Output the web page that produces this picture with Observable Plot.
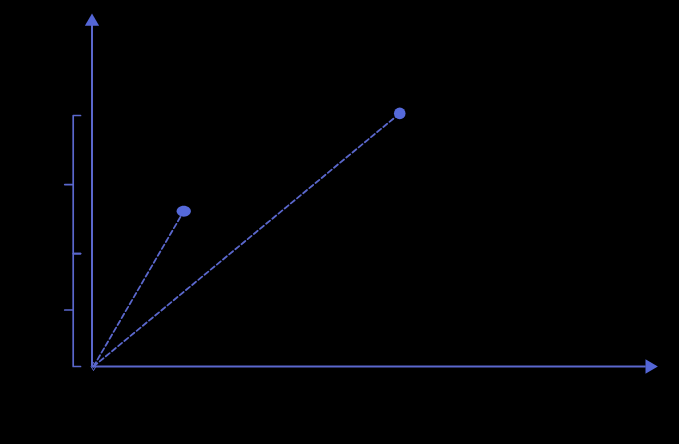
<!DOCTYPE html>
<html>
<head>
<meta charset="utf-8">
<script src="https://cdn.jsdelivr.net/npm/d3@7"></script>
<script src="https://cdn.jsdelivr.net/npm/@observablehq/plot@0.6"></script>
<style>
  html, body { margin: 0; padding: 0; background: #000; }
  #chart { width: 679px; height: 444px; }
</style>
</head>
<body>
<div id="chart"></div>
<script>
// Data (conceptual units: origin at 0,0)
const pointNames = ["A", "B"];
const pointX = [16, 54.3];
const pointY = [44, 71.7];
const braceLevels = [0, 32, 71.1];   // bracket boundaries on the y scale
const axisMax = 100;

const color = "#5a67cc";
const dotColor = "#5569da";
const arrowColor = "#5466d6";

// Brace geometry in x units (left of the y axis)
const braceX = -3.6, hookX = -2.3, tickX = -5.1;

const braceSegs = [];
for (let i = 0; i < braceLevels.length - 1; i++) {
  const lo = braceLevels[i], hi = braceLevels[i + 1], mid = (lo + hi) / 2;
  braceSegs.push({g: "b" + i, x: hookX, y: hi}, {g: "b" + i, x: braceX, y: hi},
                 {g: "b" + i, x: braceX, y: lo}, {g: "b" + i, x: hookX, y: lo});
  braceSegs.push({g: "t" + i, x: braceX, y: mid}, {g: "t" + i, x: tickX, y: mid});
}

const pts = pointNames.map((n, i) => ({name: n, x: pointX[i], y: pointY[i]}));
const rays = pts.flatMap(p => [{g: p.name, x: 0, y: 0}, {g: p.name, x: p.x, y: p.y}]);

// ellipse symbol (wider than tall)
const ellipse = {
  draw(ctx, size) {
    const r = Math.sqrt(size / Math.PI);
    const rx = r * 1.15, ry = r * 0.88, k = 0.5523;
    ctx.moveTo(rx, 0);
    ctx.bezierCurveTo(rx, ry * k, rx * k, ry, 0, ry);
    ctx.bezierCurveTo(-rx * k, ry, -rx, ry * k, -rx, 0);
    ctx.bezierCurveTo(-rx, -ry * k, -rx * k, -ry, 0, -ry);
    ctx.bezierCurveTo(rx * k, -ry, rx, -ry * k, rx, 0);
    ctx.closePath();
  }
};

const chart = Plot.plot({
  width: 679,
  height: 444,
  marginLeft: 93,
  marginRight: 22,
  marginTop: 13,
  marginBottom: 78,
  style: {background: "#000"},
  x: {domain: [0, axisMax], axis: null},
  y: {domain: [0, axisMax], axis: null},
  marks: [
    // axes
    Plot.ruleX([0], {y1: 0, y2: 97, stroke: color, strokeWidth: 2, dx: -1.5}),
    Plot.ruleY([0], {x1: -0.3, x2: 98, stroke: color, strokeWidth: 2}),
    Plot.dot([{x: 0, y: 97.7}], {x: "x", y: "y", symbol: "triangle", r: 5.3, fill: arrowColor, stroke: "none", dx: -1.5}),
    Plot.dot([{x: 98.6, y: 0}], {x: "x", y: "y", symbol: "triangle", r: 5.3, rotate: 90, fill: arrowColor, stroke: "none"}),
    // braces
    Plot.line(braceSegs, {x: "x", y: "y", z: "g", stroke: color, strokeWidth: 1.7, curve: "linear"}),
    // dashed rays
    Plot.line(rays, {x: "x", y: "y", z: "g", stroke: color, strokeWidth: 1.8, strokeDasharray: "5,3"}),
    // origin marker
    Plot.dot([{x: 0, y: 0}], {x: "x", y: "y", r: 2.5, symbol: "diamond", stroke: color, fill: "none", strokeWidth: 1}),
    // points
    Plot.dot([pts[0]], {x: "x", y: "y", symbol: ellipse, r: 6.2, fill: dotColor, stroke: "none"}),
    Plot.dot([pts[1]], {x: "x", y: "y", r: 5.8, fill: dotColor, stroke: "none"})
  ]
});
document.getElementById("chart").appendChild(chart);
</script>
</body>
</html>
